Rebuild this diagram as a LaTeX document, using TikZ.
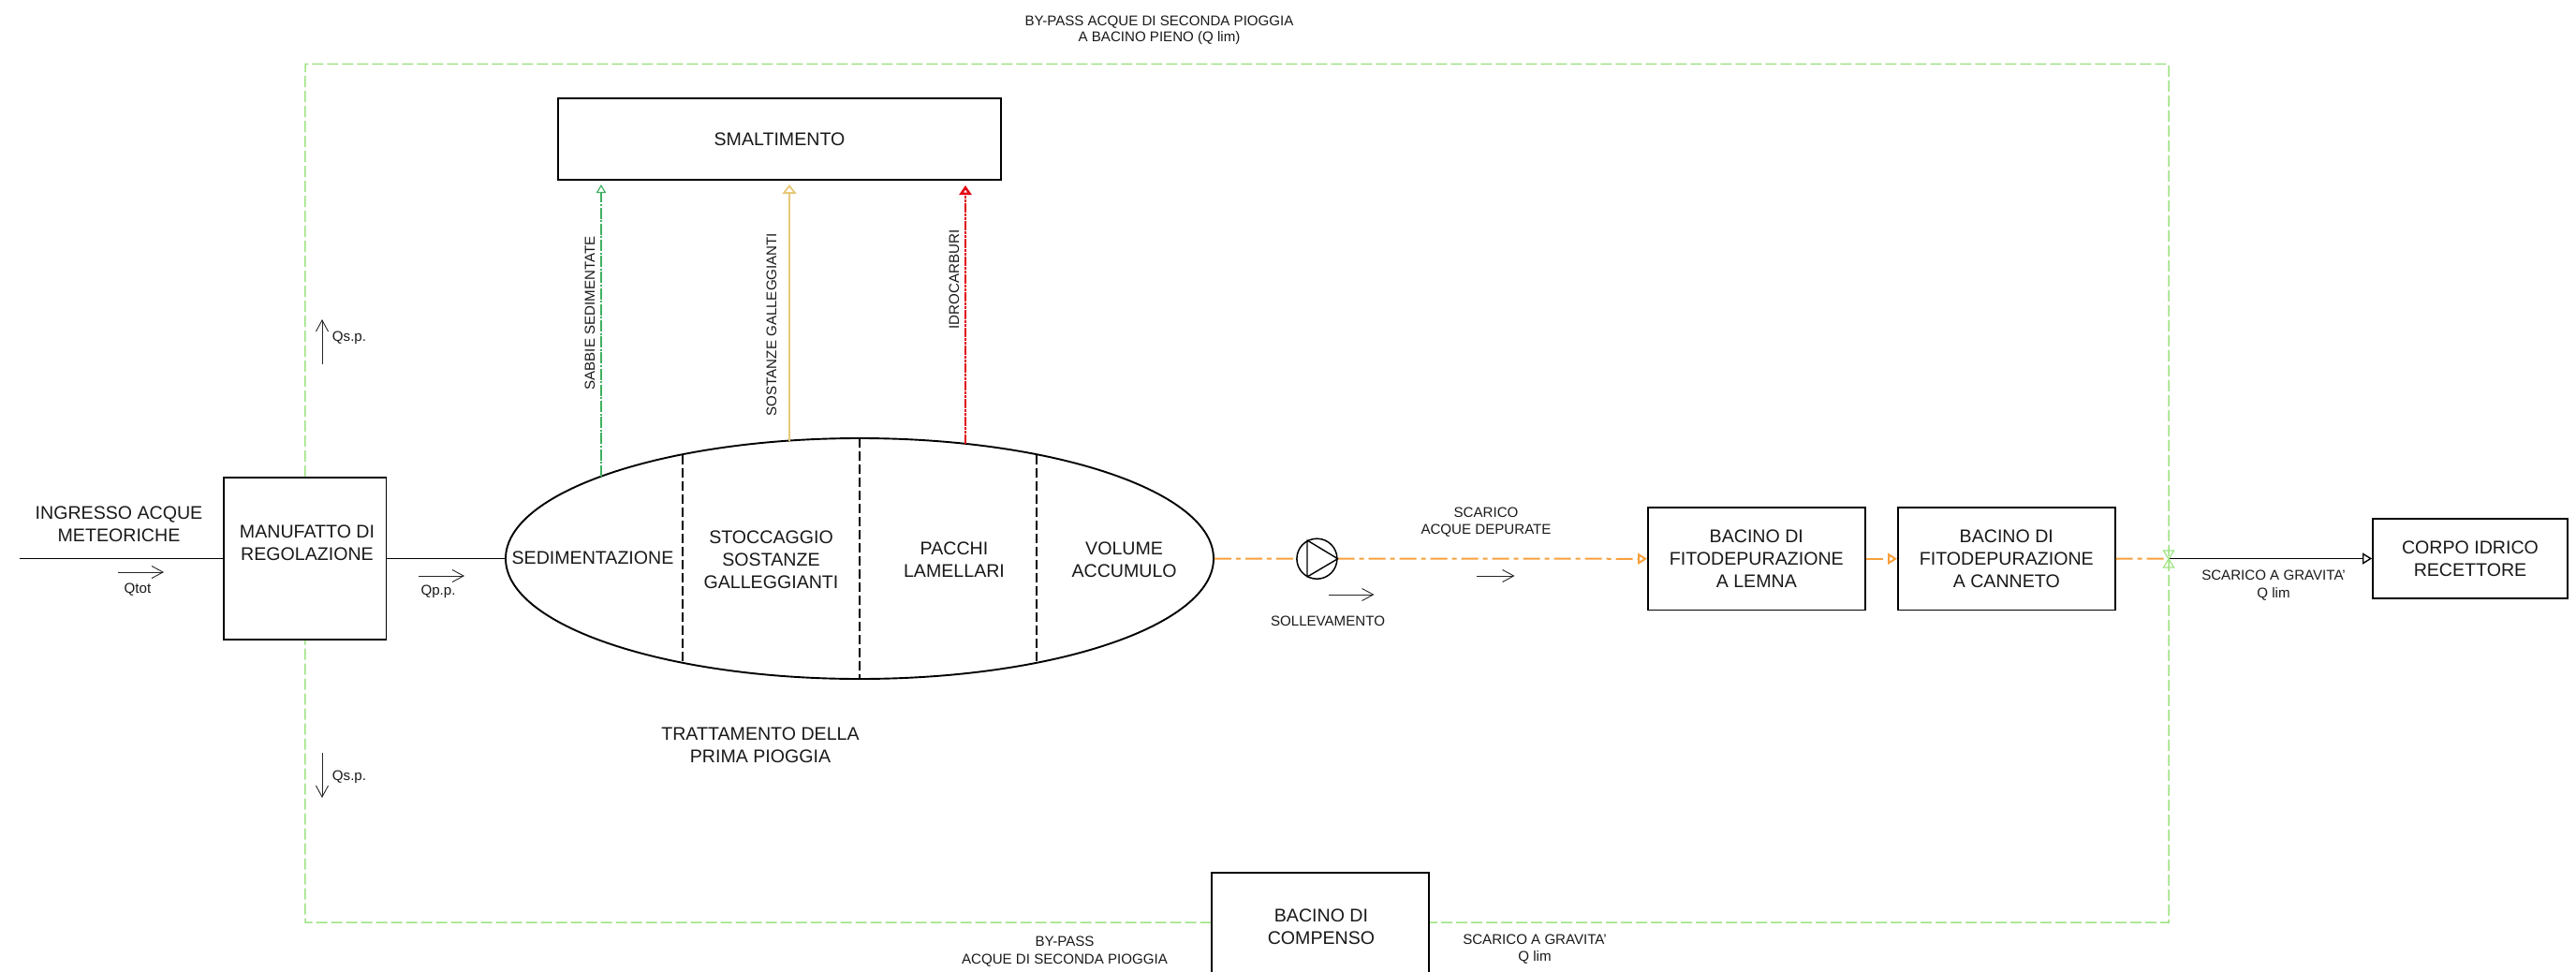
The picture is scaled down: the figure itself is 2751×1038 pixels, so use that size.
\documentclass[tikz,border=0pt]{standalone}
\usepackage{fontspec}
\setmainfont{Liberation Sans}
\usetikzlibrary{arrows.meta,shapes.geometric}
\definecolor{bypass}{HTML}{9FE384}
\definecolor{orangeline}{HTML}{F8A03C}
\definecolor{greenline}{HTML}{3FB060}
\definecolor{yellowline}{HTML}{E6C878}
\definecolor{redline}{HTML}{E30613}
\tikzset{
  px/.style={x=0.5pt,y=-0.5pt},
  big/.style={font=\fontsize{9.8}{12}\selectfont,align=center,inner sep=0pt,text=black!90},
  small/.style={font=\fontsize{7.55}{9.25}\selectfont,align=center,inner sep=0pt,text=black!90},
  tight/.style={font=\fontsize{7.55}{8.25}\selectfont,align=center,inner sep=0pt,text=black!90},
  boxnode/.style={draw=black,line width=0.95pt,fill=white,rectangle,inner sep=0pt,
     font=\fontsize{9.8}{12}\selectfont,align=center,text=black!90},
  thinarrow/.style={draw=black!85,line width=0.45pt,-{Straight Barb[length=6pt,width=6.5pt]}},
  flow/.style={line width=0.55pt,draw=black},
  bypassline/.style={draw=bypass,line width=0.75pt,dash pattern=on 6pt off 2pt},
  orangeflow/.style={draw=orangeline,line width=1pt,dash pattern=on 9pt off 2.5pt on 2.5pt off 2.5pt},
  divider/.style={draw=black,line width=0.85pt,dash pattern=on 5pt off 2pt},
  openhead/.style={-{Triangle[open,length=5pt,width=6pt]}},
}
\begin{document}
\begin{tikzpicture}[px]
\useasboundingbox (0,0) rectangle (2751,1038);
% --- anchors for the free ends
\coordinate (inA) at (20.5,596.5);
\coordinate (tl) at (326,68.5);
\coordinate (tr) at (2316,68.5);
\coordinate (br) at (2316,985);
\coordinate (bl) at (326,985);
\coordinate (cross) at (2316,596.5);
% --- nodes
\node[boxnode,minimum width=86.75pt,minimum height=86.5pt] (man) at (325.75,596.5) {};
\node[boxnode,minimum width=236.5pt,minimum height=43.5pt] (smalt) at (832.5,148.5) {SMALTIMENTO};
\node[ellipse,draw=black,line width=0.95pt,fill=white,inner sep=0pt,minimum width=378pt,minimum height=128.5pt] (ell) at (918,596.5) {};
\node[boxnode,minimum width=115.8pt,minimum height=54.75pt] (lemna) at (1875.8,596.75) {BACINO DI\\FITODEPURAZIONE\\A LEMNA};
\node[boxnode,minimum width=115.8pt,minimum height=54.75pt] (cann) at (2142.8,596.75) {BACINO DI\\FITODEPURAZIONE\\A CANNETO};
\node[boxnode,minimum width=104pt,minimum height=42.5pt] (corpo) at (2638,596.5) {CORPO IDRICO\\RECETTORE};
\node[fill=white,inner sep=0pt,minimum width=115.75pt,minimum height=53pt] (comp) at (1409.75,985) {};
\node[circle,draw=black,line width=0.75pt,fill=white,inner sep=0pt,minimum size=21.5pt] (pump) at (1406.4,596.7) {};
% --- by-pass loop
\draw[bypassline] (man.north) -- (tl) -- (tr) -- (br) -- (comp.east);
\draw[bypassline] (comp.west) -- (bl) -- (man.south);
% --- compenso box (cut by the page)
\draw[line width=0.95pt] (comp.south west) -- (comp.north west) -- (comp.north east) -- (comp.south east);
% --- main flow
\draw[flow] (inA) -- (man.west);
\draw[flow] (man.east) -- (ell.west);
\draw[orangeflow] (ell.east) -- (pump.west);
\draw[orangeflow,openhead] (pump.east) -- (lemna.west);
\draw[orangeflow,openhead] (lemna.east) -- (cann.west);
\draw[orangeflow] (cann.east) -- (cross);
\draw[flow,line width=0.7pt,openhead] (cross) -- (corpo.west);
\draw[draw=bypass,line width=0.6pt] (2310.4,588) -- (2321.6,588) -- (2310.4,606) -- (2321.6,606) -- cycle;
% --- pump triangle
\coordinate (pa) at (1396,577);
\coordinate (pb) at (1396,616);
\draw[line width=0.7pt,line join=round] (pa) -- (pump.east) -- (pb) -- cycle;
% --- dividers
\coordinate (d1t) at (729,485.5);
\coordinate (d1b) at (729,707.5);
\coordinate (d2t) at (918,468);
\coordinate (d2b) at (918,725);
\coordinate (d3t) at (1107,485.5);
\coordinate (d3b) at (1107,707.5);
\draw[divider] (d1t) -- (d1b);
\draw[divider] (d2t) -- (d2b);
\draw[divider] (d3t) -- (d3b);
% --- disposal connectors
\coordinate (g0) at (642,508.7);
\coordinate (g1) at (642,197);
\coordinate (y0) at (843,470.5);
\coordinate (y1) at (843,197);
\coordinate (r0) at (1031,474);
\coordinate (r1) at (1031,198);
\draw[draw=greenline,line width=0.6pt,dash pattern=on 6pt off 0.8pt on 1pt off 0.8pt,-{Triangle[open,length=4.5pt,width=5.2pt]}] (g0) -- (g1);
\draw[draw=yellowline,line width=0.9pt,-{Triangle[open,length=5pt,width=7.5pt]}] (y0) -- (y1);
\draw[draw=redline,line width=1.3pt,dash pattern=on 5pt off 0.7pt on 1.2pt off 0.7pt on 1.2pt off 0.7pt,-{Triangle[open,length=5pt,width=6.5pt]}] (r0) -- (r1);
% --- small arrows
\coordinate (qa0) at (126,611);  \coordinate (qa1) at (175,611);
\coordinate (qb0) at (447,615);  \coordinate (qb1) at (496,615);
\coordinate (qc0) at (344,389);  \coordinate (qc1) at (344,341);
\coordinate (qd0) at (344,804);  \coordinate (qd1) at (344,852);
\coordinate (qe0) at (1419,635); \coordinate (qe1) at (1467.5,635);
\coordinate (qf0) at (1577,615); \coordinate (qf1) at (1617.5,615);
\draw[thinarrow] (qa0) -- (qa1);
\draw[thinarrow] (qb0) -- (qb1);
\draw[thinarrow] (qc0) -- (qc1);
\draw[thinarrow] (qd0) -- (qd1);
\draw[thinarrow] (qe0) -- (qe1);
\draw[thinarrow] (qf0) -- (qf1);
% --- texts
\node[big] (tin) at (127,560) {INGRESSO ACQUE\\METEORICHE};
\node[big] (tman) at (328,580) {MANUFATTO DI\\REGOLAZIONE};
\node[big] (t1) at (633,596) {SEDIMENTAZIONE};
\node[big] (t2) at (823.5,597.5) {STOCCAGGIO\\SOSTANZE\\GALLEGGIANTI};
\node[big] (t3) at (1019,597.5) {PACCHI\\LAMELLARI};
\node[big] (t4) at (1200.6,597.5) {VOLUME\\ACCUMULO};
\node[big] (t5) at (812,795.5) {TRATTAMENTO DELLA\\PRIMA PIOGGIA};
\node[big] (tcomp) at (1411,990) {BACINO DI\\COMPENSO};
\node[small] (tq1) at (147,630) {Qtot};
\node[small] (tq2) at (468,632) {Qp.p.};
\node[small] (tq3) at (373,361) {Qs.p.};
\node[small] (tq4) at (373,830) {Qs.p.};
\node[small,rotate=90] (ts1) at (630,334.5) {SABBIE SEDIMENTATE};
\node[small,rotate=90] (ts2) at (824,346.5) {SOSTANZE GALLEGGIANTI};
\node[small,rotate=90] (ts3) at (1019,298.5) {IDROCARBURI};
\node[small] (ts4) at (1418,663) {SOLLEVAMENTO};
\node[small] (ts5) at (1587,557.5) {SCARICO\\ACQUE DEPURATE};
\node[small] (ts6) at (2428,625) {SCARICO A GRAVITA'\\Q lim};
\node[small] (ts7) at (1639,1013.5) {SCARICO A GRAVITA'\\Q lim};
\node[small] (ts8) at (1137,1016) {BY-PASS\\ACQUE DI SECONDA PIOGGIA};
\node[tight] (ts9) at (1238,32.5) {BY-PASS ACQUE DI SECONDA PIOGGIA\\A BACINO PIENO (Q lim)};
\end{tikzpicture}
\end{document}
